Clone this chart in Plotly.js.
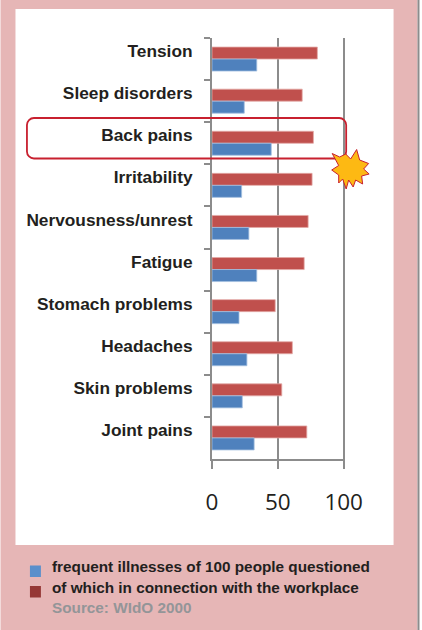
<!DOCTYPE html>
<html>
<head>
<meta charset="utf-8">
<script src="https://cdn.plot.ly/plotly-3.0.1.min.js"></script>
<style>html,body{margin:0;padding:0;background:#fff}</style>
</head>
<body>
<div id="chart" style="width:422px;height:630px"></div>
<script>
const categories = ["Tension","Sleep disorders","Back pains","Irritability","Nervousness/unrest","Fatigue","Stomach problems","Headaches","Skin problems","Joint pains"];
const workplace = [80,68.5,77,76,73,70,48,61,53,72];
const frequent = [34,24.5,45,22.5,28,34,20.5,26.5,23,32];
const legendLines = ["frequent illnesses of 100 people questioned","of which in connection with the workplace"];
const sourceLine = "Source: WIdO 2000";
const xTicks = [0,50,100];

const W = 422, H = 630, L = 212, R = 345.32, T = 38, B = 459;
const px = x => (x - L) / (R - L);
const py = y => (B - y) / (B - T);

function rect(x0, y0, x1, y1, fill, layer) {
  return {type:'rect', xref:'paper', yref:'paper', x0:px(x0), x1:px(x1), y0:py(y1), y1:py(y0),
          fillcolor:fill, line:{width:0}, layer:layer || 'below'};
}
function pathOf(points) {
  return 'M' + points.map(p => px(p[0]) + ',' + py(p[1])).join('L') + 'Z';
}
const starOutline = [[332.5,153.5],[340,157],[346,154],[351,159],[357,149.5],[360,160],[369,163.5],[364,169],[369.5,174],[362,176],[363,184],[356,180],[353.5,187],[349,180],[346.5,189],[343,179],[339,183],[339,175],[332,170],[339,165.5]];

// rounded highlight box
const bx0 = 26.5, bx1 = 346.5, by0 = 118, by1 = 158.5, r = 7;
const k = r * 0.45;
const boxPath = 'M' + px(bx0 + r) + ',' + py(by0) +
  'L' + px(bx1 - r) + ',' + py(by0) +
  'C' + px(bx1 - k) + ',' + py(by0) + ' ' + px(bx1) + ',' + py(by0 + k) + ' ' + px(bx1) + ',' + py(by0 + r) +
  'L' + px(bx1) + ',' + py(by1 - r) +
  'C' + px(bx1) + ',' + py(by1 - k) + ' ' + px(bx1 - k) + ',' + py(by1) + ' ' + px(bx1 - r) + ',' + py(by1) +
  'L' + px(bx0 + r) + ',' + py(by1) +
  'C' + px(bx0 + k) + ',' + py(by1) + ' ' + px(bx0) + ',' + py(by1 - k) + ' ' + px(bx0) + ',' + py(by1 - r) +
  'L' + px(bx0) + ',' + py(by0 + r) +
  'C' + px(bx0) + ',' + py(by0 + k) + ' ' + px(bx0 + k) + ',' + py(by0) + ' ' + px(bx0 + r) + ',' + py(by0) + 'Z';

const FONT = '"Liberation Sans", Arial, sans-serif';
function note(text, x, y, color) {
  return {xref:'paper', yref:'paper', x:px(x), y:py(y), xanchor:'left', yanchor:'middle', showarrow:false,
          align:'left', text:'<b>' + text + '</b>', font:{family:FONT, size:15.3, color:color}};
}

const traces = [
  {type:'bar', orientation:'h', name:legendLines[1], y:categories, x:workplace, marker:{color:'#c0504d', line:{color:'#e3a9a7', width:0.8}}},
  {type:'bar', orientation:'h', name:legendLines[0], y:categories, x:frequent, marker:{color:'#4f81bd', line:{color:'#a3bfdf', width:0.8}}}
];

const layout = {
  width:W, height:H, showlegend:false,
  margin:{l:L, r:W-R, t:T, b:H-B, pad:0},
  paper_bgcolor:'#ffffff', plot_bgcolor:'rgba(0,0,0,0)',
  barmode:'group', bargap:0.43, bargroupgap:0,
  xaxis:{range:[0,101], tickvals:xTicks, ticks:'outside', ticklen:8, tickwidth:2, tickcolor:'#8c8c8c',
         showgrid:true, gridcolor:'#8c8c8c', gridwidth:2, zeroline:false,
         showline:true, linecolor:'#8c8c8c', linewidth:2,
         tickfont:{family:'"Open Sans", sans-serif', size:22.5, color:'#231f20'}, ticklabelstandoff:14},
  yaxis:{type:'category', categoryorder:'array', categoryarray:categories, autorange:false, range:[9.5,-0.5],
         tickson:'boundaries', ticks:'outside', ticklen:6, tickwidth:2, tickcolor:'#8c8c8c',
         showgrid:false, zeroline:false, showline:true, linecolor:'#8c8c8c', linewidth:2,
         tickfont:{family:FONT, size:17.3, color:'#231f20', weight:'bold'}, ticklabelstandoff:14, ticklabelshift:8},
  shapes:[
    rect(0, 0, 418, H, '#e6b6b6'),
    rect(418, 0, 420, H, '#8c8c8c'),
    rect(15, 9, 394, 545, '#ffffff'),
    rect(29.5, 565.5, 40.5, 577, '#5b8fcb'),
    rect(29.5, 586, 40.5, 597.5, '#953735'),
    {type:'path', xref:'paper', yref:'paper', path:boxPath, line:{color:'#c8202f', width:1.8}, fillcolor:'rgba(0,0,0,0)', layer:'above'},
    {type:'path', xref:'paper', yref:'paper', path:pathOf(starOutline), line:{color:'#c8202f', width:1}, fillcolor:'#fdb913', layer:'above'}
  ],
  annotations:[
    note(legendLines[0], 50, 566, '#231f20'),
    note(legendLines[1], 50, 587, '#231f20'),
    note(sourceLine, 50, 607, '#939598')
  ]
};

Plotly.newPlot('chart', traces, layout, {displayModeBar:false, staticPlot:true});
</script>
</body>
</html>
